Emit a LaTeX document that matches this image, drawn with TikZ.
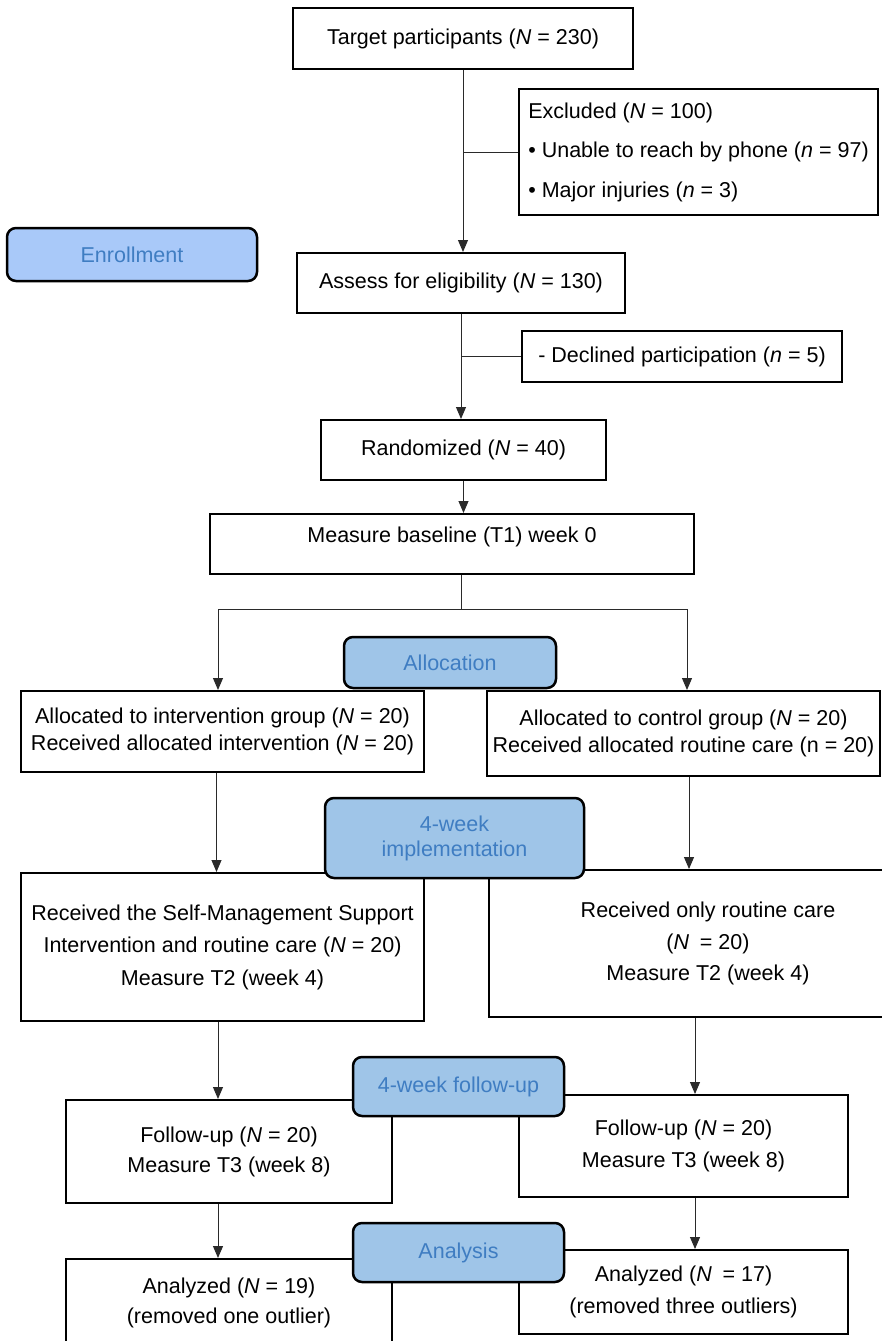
\documentclass[tikz,border=0pt]{standalone}
\usepackage{fontspec}
\setmainfont{Liberation Sans}
\usetikzlibrary{arrows.meta,calc}
\definecolor{phasefill}{HTML}{9FC5E8}
\definecolor{enrollfill}{HTML}{A9C9F9}
\definecolor{phasetext}{HTML}{3F7DC2}
\definecolor{linegray}{HTML}{2A2A2A}
\tikzset{
  box/.style={draw=black, line width=2pt, fill=white, inner sep=0pt, align=center, font=\fontsize{21.5}{26}\selectfont},
  phase/.style={draw=black, line width=2.5pt, rounded corners=9pt, fill=phasefill, text=phasetext, align=center, inner sep=0pt, font=\fontsize{21.5}{25}\selectfont},
  conn/.style={draw=linegray, line width=1pt},
  arr/.style={conn, -{Triangle[length=12pt,width=10pt]}},
}
\begin{document}
\begin{tikzpicture}[x=1pt,y=-1pt]
\useasboundingbox (0,0) rectangle (882,1341);
\clip (0,0) rectangle (882,1341);
% main boxes
\node[box, minimum width=340pt, minimum height=61pt] (target) at (463,38.5) {Target participants (\textit{N} = 230)};
\node[box, minimum width=359pt, minimum height=126pt, align=left, font=\fontsize{21.5}{39.5}\selectfont] (excl) at (698.5,152) {Excluded (\textit{N} = 100)\\\textbullet\ Unable to reach by phone (\textit{n} = 97)\\\textbullet\ Major injuries (\textit{n} = 3)};
\node[box, minimum width=328pt, minimum height=60pt] (assess) at (461,283) {Assess for eligibility (\textit{N} = 130)};
\node[box, minimum width=320pt, minimum height=51pt] (declined) at (682,356.5) {- Declined participation (\textit{n} = 5)};
\node[box, minimum width=285pt, minimum height=60pt] (rand) at (463.5,450) {Randomized (\textit{N} = 40)};
\node[box, minimum width=484pt, minimum height=60pt, text depth=18pt] (base) at (452,544) {Measure baseline (T1) week 0};
\node[box, minimum width=403pt, minimum height=81pt, font=\fontsize{21.5}{27}\selectfont] (allocL) at (222.5,731.5) {Allocated to intervention group (\textit{N} = 20)\\Received allocated intervention (\textit{N} = 20)};
\node[box, minimum width=393pt, minimum height=85pt, font=\fontsize{21.5}{27}\selectfont] (allocR) at (683.5,733.5) {Allocated to control group (\textit{N} = 20)\\Received allocated routine care (n = 20)};
\node[box, minimum width=403pt, minimum height=148pt, font=\fontsize{21.5}{32.5}\selectfont] (implL) at (222.5,947) {Received the Self-Management Support\\Intervention and routine care (\textit{N} = 20)\\Measure T2 (week 4)};
\node[box, minimum width=438pt, minimum height=147pt, font=\fontsize{21.5}{31.5}\selectfont] (implR) at (708,943.5) {Received only routine care\\(\textit{N}\enspace= 20)\\Measure T2 (week 4)};
\node[box, minimum width=326pt, minimum height=103pt, font=\fontsize{21.5}{30}\selectfont] (fuL) at (229,1151.5) {Follow-up (\textit{N} = 20)\\Measure T3 (week 8)};
\node[box, minimum width=329pt, minimum height=102pt, font=\fontsize{21.5}{32}\selectfont] (fuR) at (683.5,1146) {Follow-up (\textit{N} = 20)\\Measure T3 (week 8)};
\node[box, minimum width=326pt, minimum height=88pt, font=\fontsize{21.5}{30}\selectfont] (anL) at (229,1303) {Analyzed (\textit{N} = 19)\\(removed one outlier)};
\node[box, minimum width=329pt, minimum height=84pt, font=\fontsize{21.5}{32}\selectfont] (anR) at (683.5,1292) {Analyzed (\textit{N}\enspace= 17)\\(removed three outliers)};
% connectors
\draw[arr] (target.south) -- (target.south |- assess.north);
\draw[conn] (excl.west) -- (excl.west -| target.south);
\draw[arr] (assess.south) -- (assess.south |- rand.north);
\draw[conn] (declined.west) -- (declined.west -| assess.south);
\draw[arr] (rand.south) -- (rand.south |- base.north);
\coordinate (split) at (461,609);
\coordinate (splitL) at (218,609);
\coordinate (splitR) at (687,609);
\draw[conn] (base.south -| split) -- (split);
\draw[conn] (splitL) -- (splitR);
\draw[arr] (splitL) -- (splitL |- allocL.north);
\draw[arr] (splitR) -- (splitR |- allocR.north);
\draw[arr] ([xshift=-6pt]allocL.south) -- ([xshift=-6pt]allocL.south |- implL.north);
\draw[arr] ([xshift=5.5pt]allocR.south) -- ([xshift=5.5pt]allocR.south |- implR.north);
\draw[arr] ([xshift=-4.5pt]implL.south) -- ([xshift=-4.5pt]implL.south |- fuL.north);
\draw[arr] ([xshift=-13pt]implR.south) -- ([xshift=-13pt]implR.south |- fuR.north);
\draw[arr] ([xshift=-11pt]fuL.south) -- ([xshift=-11pt]fuL.south |- anL.north);
\draw[arr] ([xshift=11.5pt]fuR.south) -- ([xshift=11.5pt]fuR.south |- anR.north);
% phase labels
\node[phase, fill=enrollfill, minimum width=250pt, minimum height=53pt] (enroll) at (132,254.5) {Enrollment};
\node[phase, minimum width=212pt, minimum height=51pt] (allocation) at (450,662.5) {Allocation};
\node[phase, minimum width=259pt, minimum height=80pt] (implementation) at (454.5,838) {4-week\\implementation};
\node[phase, minimum width=211pt, minimum height=59pt] (followup) at (458.5,1086.5) {4-week follow-up};
\node[phase, minimum width=211pt, minimum height=59pt] (analysis) at (458.5,1252.5) {Analysis};
\end{tikzpicture}
\end{document}
